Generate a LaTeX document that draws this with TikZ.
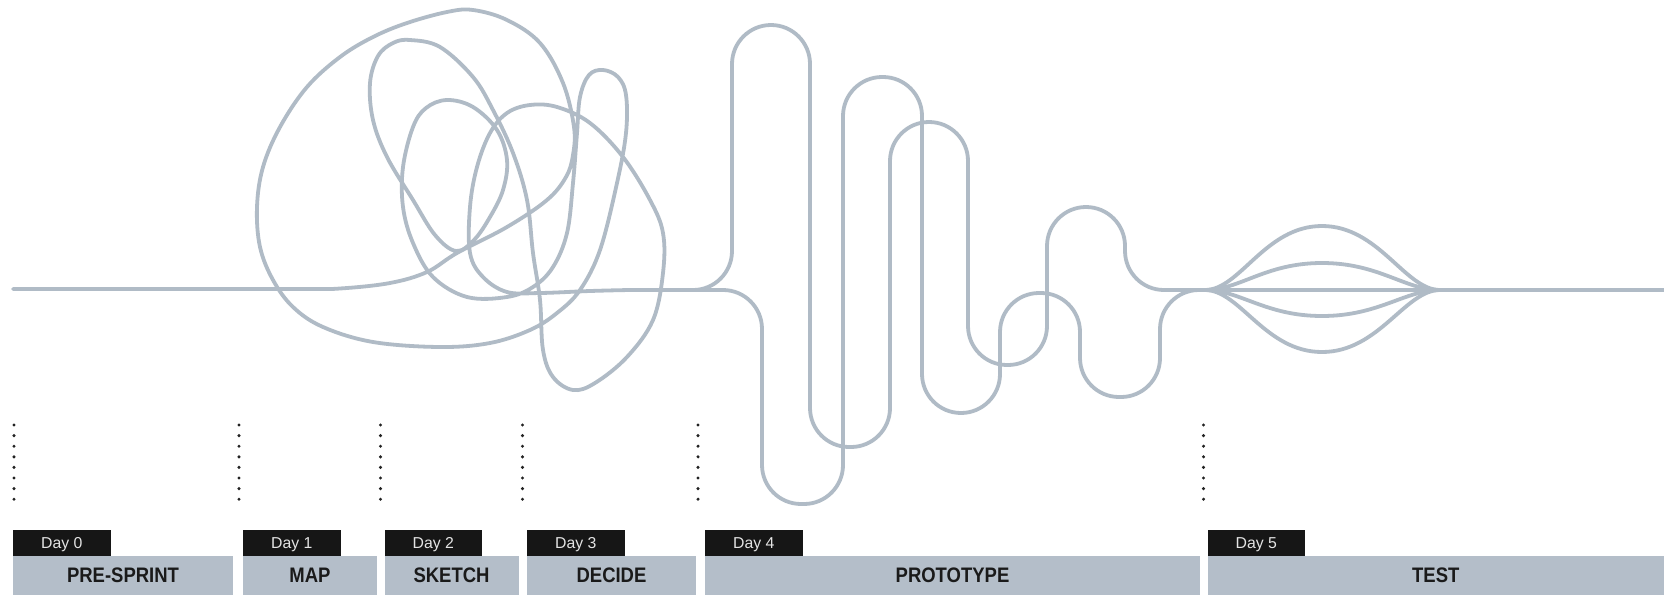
\documentclass[tikz,border=0pt]{standalone}
\usepackage{fontspec}
\setmainfont{Liberation Sans}
\newfontfamily\labfont[FakeStretch=0.88]{Liberation Sans}
\definecolor{wirecol}{HTML}{B0BBC6}
\definecolor{barcol}{HTML}{B4BEC9}
\definecolor{daycol}{HTML}{161616}
\definecolor{daytxt}{HTML}{E4E4E4}
\definecolor{labtxt}{HTML}{1A1A1A}
\definecolor{dotcol}{HTML}{222222}
\begin{document}
\begin{tikzpicture}[x=0.5pt,y=-0.5pt,
  wire/.style={draw=wirecol, line width=1.9pt, line cap=round, line join=round},
  bar/.style={fill=barcol, text=labtxt, inner sep=0pt, minimum height=19.5pt,
    font=\labfont\bfseries\fontsize{10.5pt}{12pt}\selectfont},
  daybox/.style={fill=daycol, text=daytxt, inner sep=0pt, minimum height=13pt,
    minimum width=48.75pt, text depth=0pt, font=\fontsize{7.9pt}{9pt}\selectfont},
  dot/.style={fill=dotcol}]
\fill[white] (0,0) rectangle (1664,595);
\useasboundingbox (0,0) rectangle (1664,595);

% scribble
\draw[wire] plot[smooth, tension=0.6] coordinates {
 (13,289) (150,289) (300,289) (340,288.5) (390,283) (427,272) (457,253) (507,227)
 (547,200) (566,177) (573,155) (574,127) (563,83) (540,43) (507,20) (473,10)
 (447,12) (407,23) (373,37) (340,57) (307,87) (280,127) (263,167) (257,207)
 (260,247) (273,280) (293,307) (323,327) (373,342) (440,347) (490,343) (530,330)
 (557,313) (580,290) (600,250) (617,183) (626,133) (626,95) (618,77) (603,70)
 (589,75) (580,97) (577,133) (573,183) (567,233) (553,267) (533,287) (507,297)
 (467,297) (433,277) (413,243) (403,207) (403,167) (413,127) (426,108) (447,100)
 (473,107) (497,130) (507,160) (503,190) (490,217) (474,240) (456,251) (435,235)
 (413,200) (387,157) (373,120) (370,83) (378,56) (393,43) (410,40) (440,47)
 (473,77) (493,110) (513,153) (527,200) (533,253) (540,300) (543,350) (553,377)
 (573,390) (595,383) (627,357) (653,320) (663,273) (663,233) (650,200) (623,157)
 (590,123) (557,107) (530,105) (507,113) (490,133) (477,167) (470,207) (470,253)
 (483,277) (507,292) (540,293) (590,291) (630,290) (650,290)};

% prototype strands
\draw[wire, rounded corners=19.5pt] (640,290) -- (732,290) -- (732,25) -- (810,25)
 -- (810,447) -- (890,447) -- (890,122) -- (968,122) -- (968,365) -- (1047,365)
 -- (1047,207) -- (1125,207) -- (1125,290) -- (1210,290);
\draw[wire, rounded corners=19.5pt] (640,290) -- (762,290) -- (762,504) -- (843,504)
 -- (843,77) -- (922,77) -- (922,413) -- (1000,413) -- (1000,293) -- (1080,293)
 -- (1080,397) -- (1160,397) -- (1160,290) -- (1210,290);

% test lens
\coordinate (lensL) at (1205,290);
\coordinate (lensR) at (1440,290);
\draw[wire] (lensL) .. controls (1240,290) and (1265,226) .. (1322,226)
 .. controls (1379,226) and (1405,290) .. (lensR);
\draw[wire] (lensL) .. controls (1240,290) and (1265,263) .. (1322,263)
 .. controls (1379,263) and (1405,290) .. (lensR);
\draw[wire] (lensL) .. controls (1240,290) and (1265,316) .. (1322,316)
 .. controls (1379,316) and (1405,290) .. (lensR);
\draw[wire] (lensL) .. controls (1240,290) and (1265,352) .. (1322,352)
 .. controls (1379,352) and (1405,290) .. (lensR);
\draw[wire] (1200,290) -- (1664,290);

% dotted separators
\foreach \x in {14,239,380.5,522.5,698,1203.5}
  \foreach \k in {0,...,7}
    \fill[dot] (\x,{425+\k*10.6}) circle[radius=0.85pt];

% bars
\node[bar, minimum width=110pt] (pre) at (123,575.5) {PRE-SPRINT};
\node[bar, minimum width=67pt] (map) at (310,575.5) {MAP};
\node[bar, minimum width=67pt] (sketch) at (451.5,575.5) {SKETCH};
\node[bar, minimum width=84.5pt] (decide) at (611.5,575.5) {DECIDE};
\node[bar, minimum width=247.5pt] (proto) at (952.5,575.5) {PROTOTYPE};
\node[bar, minimum width=228.25pt] (test) at (1435.75,575.5) {TEST};

\node[daybox] (d0) at (61.75,543) {Day 0};
\node[daybox] (d1) at (291.75,543) {Day 1};
\node[daybox] (d2) at (433.25,543) {Day 2};
\node[daybox] (d3) at (575.75,543) {Day 3};
\node[daybox] (d4) at (753.75,543) {Day 4};
\node[daybox] (d5) at (1256.25,543) {Day 5};
\end{tikzpicture}
\end{document}
